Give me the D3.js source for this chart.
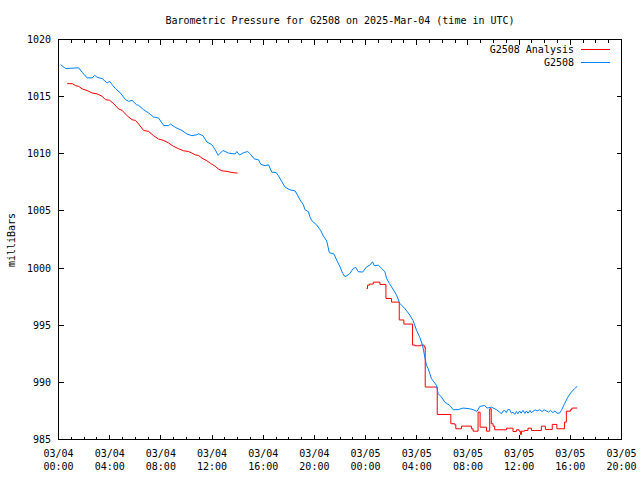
<!DOCTYPE html>
<html><head><meta charset="utf-8">
<script src="https://cdn.jsdelivr.net/npm/d3@7"></script>
<style>
body{margin:0;background:#fff;}
text{font-family:"DejaVu Sans Mono","Liberation Mono",monospace;font-size:10px;fill:#000;}
</style></head>
<body><svg id="c" width="640" height="480"></svg>
<script>
// hours since 2025-03-04 00:00 UTC
const blueHours = [0.16,0.55,1.58,1.85,2.24,2.63,2.83,3.02,3.41,3.80,4.00,4.19,4.45,4.84,5.23,5.48,5.75,6.09,6.26,6.65,7.04,7.43,7.82,8.22,8.61,8.74,9.13,9.65,10.04,10.43,10.82,10.95,11.29,11.60,11.99,12.25,12.48,12.85,13.29,13.81,13.94,14.14,14.46,14.78,14.98,15.29,15.63,15.81,16.15,16.41,16.67,17.01,17.19,17.45,17.71,18.10,18.49,18.67,18.88,19.14,19.27,19.53,19.66,19.79,20.18,20.50,20.70,20.96,21.17,21.53,21.74,22.00,22.21,22.39,22.73,23.04,23.23,23.43,23.77,24.08,24.34,24.54,24.69,24.99,25.25,25.51,25.64,25.85,26.03,26.42,26.68,27.07,27.46,27.72,27.98,28.24,28.45,28.63,28.76,28.89,29.15,29.54,29.67,29.93,30.19,30.58,30.84,31.23,31.62,32.14,32.40,32.71,32.92,33.31,33.49,33.84,34.22,34.48,34.62,34.75,34.87,35.00,35.10,35.26,35.40,35.52,35.65,35.79,35.90,36.04,36.15,36.30,36.45,36.57,36.70,36.85,36.95,37.08,37.25,37.40,37.60,37.80,37.95,38.13,38.30,38.45,38.64,38.80,38.95,39.16,39.30,39.55,39.81,40.08,40.33,40.54];
const blueValues = [1017.81,1017.46,1017.52,1017.13,1016.64,1016.64,1016.87,1016.69,1016.58,1016.20,1016.34,1016.05,1015.70,1015.32,1014.74,1014.59,1014.68,1014.30,1014.24,1013.86,1013.57,1013.22,1013.13,1012.48,1012.46,1012.61,1012.31,1012.04,1011.73,1011.58,1011.67,1011.75,1011.58,1011.03,1010.79,1010.35,1009.87,1010.29,1010.06,1009.98,1010.20,1009.89,1010.09,1010.20,1010.00,1009.56,1009.47,1009.08,1008.95,1009.04,1008.39,1008.36,1008.07,1007.57,1007.08,1006.84,1006.75,1006.40,1005.96,1005.53,1005.09,1004.94,1004.45,1004.15,1003.77,1003.27,1002.81,1002.37,1001.34,1001.23,1000.70,1000.11,999.54,999.24,999.47,999.97,1000.06,999.68,999.65,1000.11,1000.26,1000.55,1000.20,1000.26,999.97,999.68,999.10,998.66,998.36,997.63,996.90,996.46,995.88,995.38,994.56,993.92,993.25,992.22,991.49,991.20,990.32,989.74,989.01,988.71,988.27,987.98,987.61,987.61,987.75,987.69,987.61,987.46,987.89,987.98,987.75,987.83,987.61,987.39,987.25,987.50,987.54,987.35,987.60,987.61,987.30,987.39,987.20,987.45,987.25,987.50,987.30,987.55,987.28,987.50,987.30,987.55,987.35,987.45,987.60,987.50,987.60,987.45,987.60,987.50,987.40,987.55,987.35,987.50,987.30,987.31,987.54,988.13,988.71,989.15,989.45,989.65];

// analysis: two separate pieces
const redHoursA = [0.68,1.07,1.33,1.58,1.85,2.24,2.63,3.02,3.41,3.67,4.00,4.31,4.70,4.97,5.36,5.75,6.01,6.26,6.65,7.04,7.43,7.82,8.22,8.61,9.00,9.39,9.78,10.17,10.43,10.69,10.95,11.21,11.60,11.86,12.25,12.51,12.77,13.16,13.55,14.00];
const redValuesA = [1016.14,1016.14,1015.96,1015.90,1015.68,1015.53,1015.32,1015.24,1015.03,1014.74,1014.68,1014.39,1013.92,1013.80,1013.33,1012.98,1012.92,1012.61,1012.04,1011.96,1011.58,1011.29,1011.17,1010.94,1010.64,1010.44,1010.26,1010.20,1010.06,1009.91,1009.85,1009.62,1009.39,1009.18,1008.90,1008.66,1008.51,1008.46,1008.36,1008.31];
const redHoursB = [24.07,24.15,24.30,24.60,25.12,25.59,26.03,26.63,26.99,27.67,27.85,28.30,28.58,28.66,29.60,30.66,30.97,31.05,31.49,32.27,32.40,32.79,32.95,33.45,33.70,33.82,33.96,34.09,35.01,35.52,35.79,35.99,36.10,36.18,36.43,36.69,36.96,37.74,38.05,38.59,38.95,39.55,39.69,40.02,40.12,40.54];
const redValuesB = [998.20,998.50,998.60,998.77,998.57,997.34,997.02,995.46,995.10,993.26,993.20,993.26,993.10,989.59,987.19,986.38,986.29,985.94,986.17,985.94,985.73,987.39,986.08,985.73,987.69,986.38,986.17,985.85,985.99,985.70,985.85,985.73,985.44,985.73,985.79,985.99,985.79,986.17,985.88,986.32,985.94,986.52,987.48,987.61,987.75,987.75];

const yTicks = [985,990,995,1000,1005,1010,1015,1020];
const xTickDays = ["03/04","03/04","03/04","03/04","03/04","03/04","03/05","03/05","03/05","03/05","03/05","03/05"];
const xTickTimes = ["00:00","04:00","08:00","12:00","16:00","20:00","00:00","04:00","08:00","12:00","16:00","20:00"];
const seriesNames = ["G2508 Analysis","G2508"];
const seriesColors = ["#ff0000","#0080ff"];
const titleText = "Barometric Pressure for G2508 on 2025-Mar-04 (time in UTC)";
const yLabel = "milliBars";

const t0 = Date.UTC(2025,2,4,0,0);
const toDate = h => new Date(t0 + h*3600000);
const L=58.5, R=621.5, T=39.5, B=439.5;
const x = d3.scaleUtc().domain([toDate(0), toDate(44)]).range([L,R]);
const y = d3.scaleLinear().domain([985,1020]).range([B,T]);

const svg = d3.select("#c");

// border
svg.append("rect").attr("x",L).attr("y",T).attr("width",R-L).attr("height",B-T)
  .attr("fill","none").attr("stroke","#000").attr("stroke-width",1).attr("shape-rendering","crispEdges");

// x ticks (major every 4h, minor every 1h), inward on bottom and top
const majorX = d3.utcHour.every(4).range(toDate(0), toDate(44.01));
const minorX = d3.utcHour.every(1).range(toDate(0), toDate(44.01));
const gx = svg.append("g").attr("shape-rendering","crispEdges");
minorX.forEach(d=>{
  const isMajor = d.getUTCHours()%4===0;
  const len = isMajor?5:3;
  gx.append("line").attr("x1",x(d)).attr("x2",x(d)).attr("y1",B).attr("y2",B-len).attr("stroke","#000");
  gx.append("line").attr("x1",x(d)).attr("x2",x(d)).attr("y1",T).attr("y2",T+len).attr("stroke","#000");
});
majorX.forEach((d,i)=>{
  const t = gx.append("text").attr("x",x(d)).attr("text-anchor","middle");
  t.append("tspan").attr("x",x(d)).attr("y",457).text(xTickDays[i]);
  t.append("tspan").attr("x",x(d)).attr("y",470).text(xTickTimes[i]);
});

// y ticks
const gy = svg.append("g").attr("shape-rendering","crispEdges");
yTicks.forEach(v=>{
  gy.append("line").attr("x1",L).attr("x2",L+5).attr("y1",y(v)).attr("y2",y(v)).attr("stroke","#000");
  gy.append("line").attr("x1",R).attr("x2",R-5).attr("y1",y(v)).attr("y2",y(v)).attr("stroke","#000");
  gy.append("text").attr("x",51).attr("y",y(v)).attr("dy","0.35em").attr("text-anchor","end").text(v);
});

// title & y label
svg.append("text").attr("x",340).attr("y",24).attr("text-anchor","middle").text(titleText);
svg.append("text").attr("transform","translate(15,240) rotate(-90)").attr("text-anchor","middle").text(yLabel);

// lines
const lineLin = d3.line().x(d=>x(d[0])).y(d=>y(d[1]));
const lineStep = d3.line().x(d=>x(d[0])).y(d=>y(d[1])).curve(d3.curveStepAfter);
const blue = blueHours.map((h,i)=>[toDate(h), blueValues[i]]);
const redA = redHoursA.map((h,i)=>[toDate(h), redValuesA[i]]);
const redB = redHoursB.map((h,i)=>[toDate(h), redValuesB[i]]);

svg.append("path").attr("d",lineLin(redA)).attr("fill","none").attr("stroke",seriesColors[0]).attr("stroke-width",1);
svg.append("path").attr("d",lineStep(redB)).attr("fill","none").attr("stroke",seriesColors[0]).attr("stroke-width",1);
svg.append("path").attr("d",lineLin(blue)).attr("fill","none").attr("stroke",seriesColors[1]).attr("stroke-width",1);

// legend
seriesNames.forEach((n,i)=>{
  const yy = 49 + i*13;
  svg.append("text").attr("x",574).attr("y",yy).attr("dy","0.35em").attr("text-anchor","end").text(n);
  svg.append("line").attr("x1",581).attr("x2",610).attr("y1",yy+0.5).attr("y2",yy+0.5)
    .attr("stroke",seriesColors[i]).attr("stroke-width",1).attr("shape-rendering","crispEdges");
});
</script></body></html>
